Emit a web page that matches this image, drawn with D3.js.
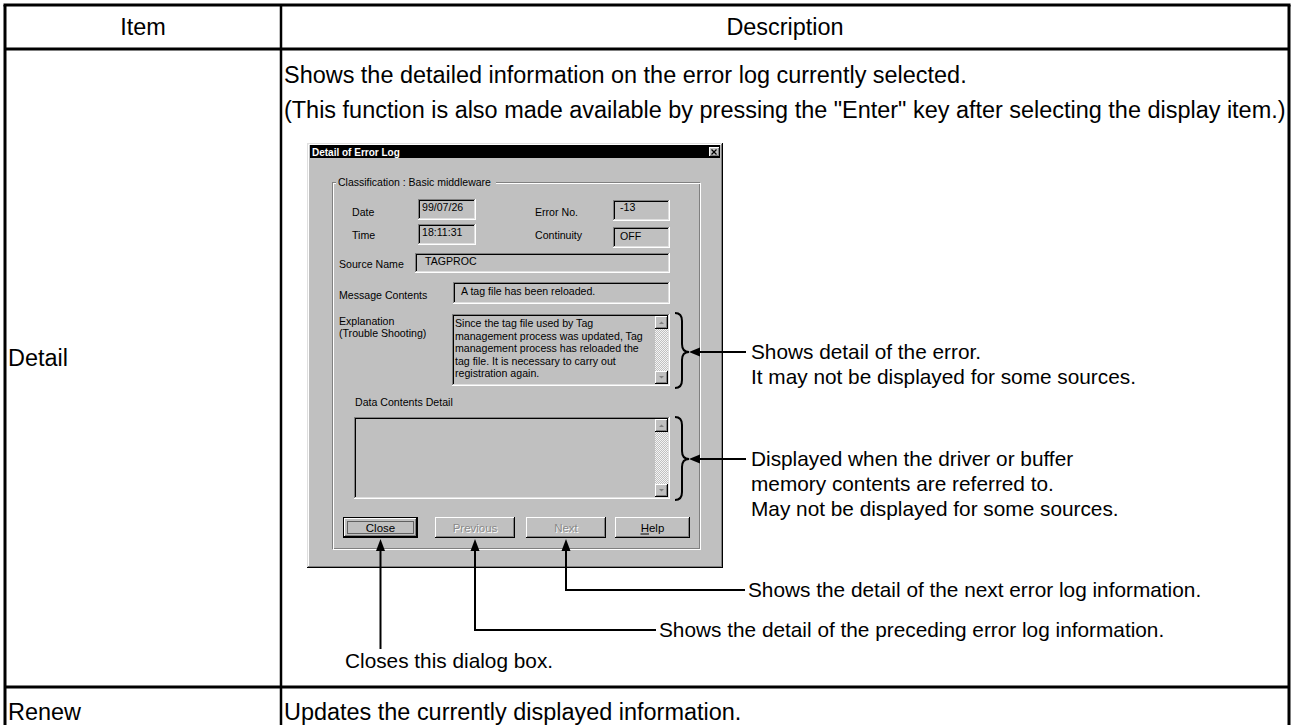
<!DOCTYPE html>
<html><head><meta charset="utf-8">
<script src="https://cdn.jsdelivr.net/npm/d3@7"></script>
<style>html,body{margin:0;padding:0;background:#fff;overflow:hidden}</style>
</head><body>
<svg id="c" width="1294" height="725"></svg>
<script>
// ---------- content ----------
const headers = ["Item", "Description"];
const items = ["Detail", "Renew"];
const detailLines = [
  "Shows the detailed information on the error log currently selected.",
  "(This function is also made available by pressing the \"Enter\" key after selecting the display item.)"
];
const renewLine = "Updates the currently displayed information.";
const dialogTitle = "Detail of Error Log";
const groupLabel = "Classification : Basic middleware";
const fieldLabels = ["Date", "Time", "Error No.", "Continuity", "Source Name", "Message Contents"];
const fieldValues = ["99/07/26", "18:11:31", "-13", "OFF", "TAGPROC", "A tag file has been reloaded."];
const explanationLabel = ["Explanation", "(Trouble Shooting)"];
const explanationText = [
  "Since the tag file used by Tag",
  "management process was updated, Tag",
  "management process has reloaded the",
  "tag file. It is necessary to carry out",
  "registration again."
];
const dataLabel = "Data Contents Detail";
const buttons = ["Close", "Previous", "Next", "Help"];
const buttonEnabled = [true, false, false, true];
const explNote = ["Shows detail of the error.", "It may not be displayed for some sources."];
const dataNote = ["Displayed when the driver or buffer", "memory contents are referred to.", "May not be displayed for some sources."];
const buttonNotes = ["Closes this dialog box.", "Shows the detail of the preceding error log information.", "Shows the detail of the next error log information."];

// ---------- drawing ----------
const FONT = "'Liberation Sans', Arial, sans-serif";
const svg = d3.select("#c");
svg.append("rect").attr("width", 1294).attr("height", 725).attr("fill", "#fff");

const defs = svg.append("defs");
const pat = defs.append("pattern").attr("id", "dither").attr("width", 2).attr("height", 2).attr("patternUnits", "userSpaceOnUse");
pat.append("rect").attr("width", 2).attr("height", 2).attr("fill", "#c0c0c0");
pat.append("rect").attr("width", 1).attr("height", 1).attr("fill", "#f4f4f4");
pat.append("rect").attr("x", 1).attr("y", 1).attr("width", 1).attr("height", 1).attr("fill", "#f4f4f4");

function txt(g, s, x, y, size, opts = {}) {
  return g.append("text").attr("x", x).attr("y", y).text(s)
    .attr("font-family", FONT).attr("font-size", size)
    .attr("fill", opts.fill || "#000")
    .attr("font-weight", opts.bold ? "bold" : null)
    .attr("text-anchor", opts.anchor || "start");
}
function line(g, x1, y1, x2, y2, w, c) {
  return g.append("line").attr("x1", x1).attr("y1", y1).attr("x2", x2).attr("y2", y2)
    .attr("stroke", c || "#000").attr("stroke-width", w);
}

// ---------- table ----------
const T = {l: 5, r: 1289, t: 5, hb: 49, sep: 687, col: 281};
const TFS = 23.45;
const colX = d3.scaleOrdinal().domain(headers).range([T.l, T.col]);
const colR = d3.scaleOrdinal().domain(headers).range([T.col, T.r]);
const tg = svg.append("g");
headers.forEach(h => txt(tg, h, (colX(h) + colR(h)) / 2, 35, TFS, {anchor: "middle"}));
txt(tg, items[0], 8, 366, TFS);
txt(tg, items[1], 8, 720, TFS);
detailLines.forEach((s, i) => txt(tg, s, 284, 83 + i * 35, TFS));
txt(tg, renewLine, 284, 720, TFS);

// ---------- dialog ----------
const dg = svg.append("g");
const D = {x: 307, y: 143, w: 416, h: 425};
dg.append("rect").attr("x", D.x).attr("y", D.y).attr("width", D.w).attr("height", D.h).attr("fill", "#c0c0c0");
line(dg, D.x, D.y + 0.5, D.x + D.w, D.y + 0.5, 1, "#dfdfdf");
line(dg, D.x + 0.5, D.y, D.x + 0.5, D.y + D.h, 1, "#dfdfdf");
line(dg, D.x + 1.5, D.y + 1.5, D.x + D.w - 1, D.y + 1.5, 1, "#fff");
line(dg, D.x + 1.5, D.y + 1.5, D.x + 1.5, D.y + D.h - 1, 1, "#fff");
line(dg, D.x, D.y + D.h - 0.5, D.x + D.w, D.y + D.h - 0.5, 1, "#000");
line(dg, D.x + D.w - 0.5, D.y, D.x + D.w - 0.5, D.y + D.h, 1, "#000");
line(dg, D.x + 1, D.y + D.h - 1.5, D.x + D.w - 1, D.y + D.h - 1.5, 1, "#808080");
line(dg, D.x + D.w - 1.5, D.y + 1, D.x + D.w - 1.5, D.y + D.h - 1, 1, "#808080");
dg.append("rect").attr("x", D.x + 3).attr("y", D.y + 2).attr("width", D.w - 6).attr("height", 13).attr("fill", "#000");
txt(dg, dialogTitle, D.x + 5, D.y + 12.5, 10, {bold: true, fill: "#fff"});
function raised(g, x, y, w, h) {
  g.append("rect").attr("x", x).attr("y", y).attr("width", w).attr("height", h).attr("fill", "#c0c0c0");
  line(g, x, y + 0.5, x + w - 1, y + 0.5, 1, "#fff");
  line(g, x + 0.5, y, x + 0.5, y + h - 1, 1, "#fff");
  line(g, x, y + h - 0.5, x + w, y + h - 0.5, 1, "#000");
  line(g, x + w - 0.5, y, x + w - 0.5, y + h, 1, "#000");
  line(g, x + 1, y + h - 1.5, x + w - 1, y + h - 1.5, 1, "#808080");
  line(g, x + w - 1.5, y + 1, x + w - 1.5, y + h - 1, 1, "#808080");
}
raised(dg, D.x + D.w - 14, D.y + 4, 11, 10);
line(dg, D.x + D.w - 11.5, D.y + 6.5, D.x + D.w - 6.5, D.y + 11.5, 1.3);
line(dg, D.x + D.w - 6.5, D.y + 6.5, D.x + D.w - 11.5, D.y + 11.5, 1.3);

const G = {x: 332, y: 182, w: 367, h: 366};
dg.append("rect").attr("x", G.x + 0.5).attr("y", G.y + 0.5).attr("width", G.w).attr("height", G.h).attr("fill", "none").attr("stroke", "#808080");
dg.append("rect").attr("x", G.x + 1.5).attr("y", G.y + 1.5).attr("width", G.w).attr("height", G.h).attr("fill", "none").attr("stroke", "#fff");
dg.append("rect").attr("x", G.x + 4).attr("y", G.y - 6).attr("width", 160).attr("height", 12).attr("fill", "#c0c0c0");
txt(dg, groupLabel, G.x + 6, G.y + 4, 10.5);

function sunken(g, x, y, w, h) {
  g.append("rect").attr("x", x).attr("y", y).attr("width", w).attr("height", h).attr("fill", "#c0c0c0");
  line(g, x, y + 0.5, x + w - 1, y + 0.5, 1, "#808080");
  line(g, x + 0.5, y, x + 0.5, y + h - 1, 1, "#808080");
  line(g, x + 1, y + 1.5, x + w - 2, y + 1.5, 1, "#000");
  line(g, x + 1.5, y + 1, x + 1.5, y + h - 2, 1, "#000");
  line(g, x, y + h - 0.5, x + w, y + h - 0.5, 1, "#fff");
  line(g, x + w - 0.5, y, x + w - 0.5, y + h, 1, "#fff");
  line(g, x + 1, y + h - 1.5, x + w - 1, y + h - 1.5, 1, "#dfdfdf");
  line(g, x + w - 1.5, y + 1, x + w - 1.5, y + h - 1, 1, "#dfdfdf");
}
function scrollbar(g, x, y, h) {
  g.append("rect").attr("x", x).attr("y", y).attr("width", 13).attr("height", h).attr("fill", "url(#dither)");
  raised(g, x, y, 13, 13);
  raised(g, x, y + h - 13, 13, 13);
  g.append("path").attr("d", `M${x + 4},${y + 8}L${x + 9},${y + 8}L${x + 6.5},${y + 5.5}Z`).attr("fill", "#808080");
  g.append("path").attr("d", `M${x + 4},${y + h - 8}L${x + 9},${y + h - 8}L${x + 6.5},${y + h - 5.5}Z`).attr("fill", "#808080");
}
const FS = 10.6;
const fieldBoxes = [
  {lx: 352, ly: 216, bx: 418, by: 199, bw: 58, bh: 21, tx: 422, ty: 211},
  {lx: 352, ly: 239, bx: 418, by: 224, bw: 58, bh: 21, tx: 422, ty: 236},
  {lx: 535, ly: 216, bx: 613, by: 200, bw: 57, bh: 21, tx: 620, ty: 211},
  {lx: 535, ly: 239, bx: 613, by: 227, bw: 57, bh: 21, tx: 620, ty: 240},
  {lx: 339, ly: 268, bx: 415, by: 253, bw: 255, bh: 20, tx: 425, ty: 265},
  {lx: 339, ly: 299, bx: 453, by: 282, bw: 217, bh: 22, tx: 461, ty: 295}
];
fieldBoxes.forEach((f, i) => {
  txt(dg, fieldLabels[i], f.lx, f.ly, FS);
  sunken(dg, f.bx, f.by, f.bw, f.bh);
  txt(dg, fieldValues[i], f.tx, f.ty, FS);
});
explanationLabel.forEach((s, i) => txt(dg, s, 339, 325 + i * 12, FS));
sunken(dg, 452, 314, 218, 72);
explanationText.forEach((s, i) => txt(dg, s, 455, 327 + i * 12.6, FS));
scrollbar(dg, 655, 316, 68);
txt(dg, dataLabel, 355, 406, FS);
sunken(dg, 354, 417, 316, 82);
scrollbar(dg, 655, 419, 78);

const btnX = d3.scaleOrdinal().domain(buttons).range([343, 435, 526, 615]);
const btnW = d3.scaleOrdinal().domain(buttons).range([75, 80, 80, 75]);
const BY = 517, BH = 21;
buttons.forEach((b, i) => {
  const x = btnX(b), w = btnW(b);
  if (i === 0) {
    dg.append("rect").attr("x", x).attr("y", BY).attr("width", w).attr("height", BH).attr("fill", "#000");
    raised(dg, x + 1, BY + 1, w - 2, BH - 2);
    dg.append("rect").attr("x", x + 4.5).attr("y", BY + 4.5).attr("width", w - 9).attr("height", BH - 9)
      .attr("fill", "none").attr("stroke", "#000").attr("stroke-width", 1).attr("stroke-dasharray", "1,1");
  } else {
    raised(dg, x, BY, w, BH);
  }
  const cx = x + w / 2;
  if (buttonEnabled[i]) {
    txt(dg, b, cx, BY + 15, 11.5, {anchor: "middle"});
    if (i === 3) line(dg, cx - 12, BY + 17, cx - 3.5, BY + 17, 1);
  } else {
    txt(dg, b, cx + 1, BY + 16, 11.5, {anchor: "middle", fill: "#fff"});
    txt(dg, b, cx, BY + 15, 11.5, {anchor: "middle", fill: "#8a8a8a"});
  }
});

// ---------- callouts ----------
const cg = svg.append("g");
function brace(x0, y0, y1, ym) {
  const w = 14, xm = x0 + w / 2, x1 = x0 + w, r = 8;
  cg.append("path").attr("d",
    `M${x0},${y0} Q${xm},${y0} ${xm},${y0 + r} L${xm},${ym - r} Q${xm},${ym} ${x1},${ym} Q${xm},${ym} ${xm},${ym + r} L${xm},${y1 - r} Q${xm},${y1} ${x0},${y1}`)
    .attr("fill", "none").attr("stroke", "#000").attr("stroke-width", 2);
  return x1;
}
function arrowLeft(tipX, y, endX) {
  line(cg, tipX + 8, y, endX, y, 2);
  cg.append("path").attr("d", `M${tipX},${y}L${tipX + 11},${y - 4.5}L${tipX + 11},${y + 4.5}Z`).attr("fill", "#000");
}
function arrowUp(x, tipY, endY) {
  line(cg, x, tipY + 8, x, endY + 1, 2);
  cg.append("path").attr("d", `M${x},${tipY}L${x - 4.5},${tipY + 12}L${x + 4.5},${tipY + 12}Z`).attr("fill", "#000");
}
const noteFS = 20.8;
let bx = brace(675, 313, 388, 352);
arrowLeft(bx, 352, 746);
explNote.forEach((s, i) => txt(cg, s, 751, 359 + i * 25, noteFS));
bx = brace(675, 417, 500, 459);
arrowLeft(bx, 459, 746);
dataNote.forEach((s, i) => txt(cg, s, 751, 466 + i * 25, noteFS));

const tipY = BY + BH + 1;
const nx = btnX("Next") + btnW("Next") / 2;
arrowUp(nx, tipY, 590);
line(cg, nx - 1, 590, 745, 590, 2);
txt(cg, buttonNotes[2], 748, 597, noteFS);
const px = btnX("Previous") + btnW("Previous") / 2;
arrowUp(px, tipY, 630);
line(cg, px - 1, 630, 656, 630, 2);
txt(cg, buttonNotes[1], 659, 637, noteFS);
const cx0 = btnX("Close") + btnW("Close") / 2;
arrowUp(cx0, tipY, 648);
txt(cg, buttonNotes[0], 345, 668, noteFS);

// table lines on top
const lg = svg.append("g");
line(lg, T.l - 1.5, T.t, T.r + 1.5, T.t, 3);
line(lg, T.l, T.t, T.l, 725, 3);
line(lg, T.r, T.t, T.r, 725, 3);
line(lg, T.l, T.hb, T.r, T.hb, 3);
line(lg, T.col, T.t, T.col, 725, 2.5);
line(lg, T.l, T.sep, T.r, T.sep, 3);
</script>
</body></html>
